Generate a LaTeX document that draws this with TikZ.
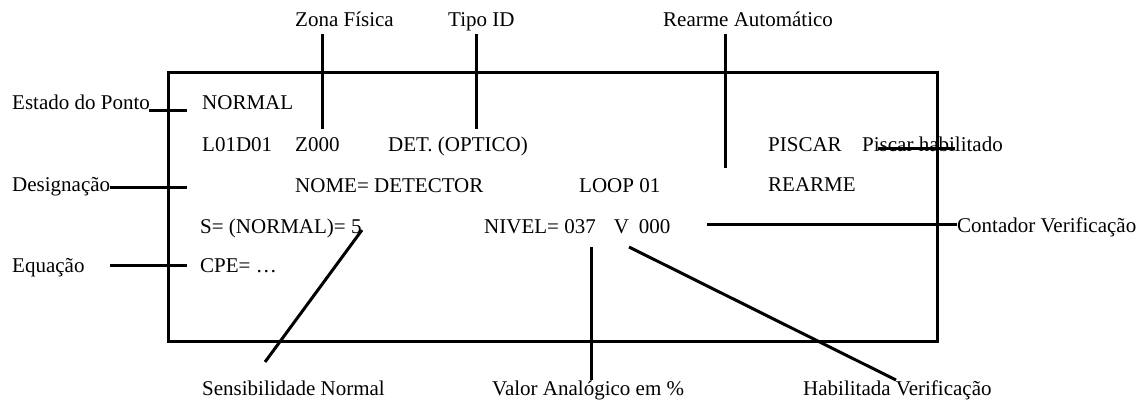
\documentclass[tikz,border=0pt]{standalone}
\usepackage{fontspec}
\setmainfont{Liberation Serif}
\begin{document}
\begin{tikzpicture}[x=1pt,y=-1pt,
  lbl/.style={anchor=base west,inner sep=0pt,font=\fontsize{21}{25}\selectfont},
  ln/.style={line width=3pt}]
\useasboundingbox (0,0) rectangle (1143,403);
% frame
\coordinate (tl) at (168,73);
\coordinate (br) at (937,341);
\draw[ln] (tl) rectangle (br);
% texts
\node[lbl] (zona) at (295,27) {Zona Física};
\node[lbl] (tipo) at (448,27) {Tipo ID};
\node[lbl] (rearmeA) at (663,27) {Rearme Automático};
\node[lbl] (estado) at (12,110) {Estado do Ponto};
\node[lbl] (normal) at (202,110) {NORMAL};
\node[lbl] (l01) at (202,152) {L01D01};
\node[lbl] (z000) at (295,152) {Z000};
\node[lbl] (det) at (388,152) {DET. (OPTICO)};
\node[lbl] (piscar) at (768,152) {PISCAR};
\node[lbl] (piscarH) at (862,152) {Piscar habilitado};
\node[lbl] (desig) at (12,192) {Designação};
\node[lbl] (nome) at (295,193) {NOME= DETECTOR};
\node[lbl] (loop) at (579,193) {LOOP 01};
\node[lbl] (rearme) at (768,192) {REARME};
\node[lbl] (sens) at (200,234) {S= (NORMAL)= 5};
\node[lbl] (nivel) at (484,234) {NIVEL= 037\hspace{18pt}V\hspace{10pt}000};
\node[lbl] (cont) at (957,233) {Contador Verificação};
\node[lbl] (equa) at (12,273) {Equação};
\node[lbl] (cpe) at (200,273) {CPE= …};
\node[lbl] (sensN) at (202,395) {Sensibilidade Normal};
\node[lbl] (valor) at (492,395) {Valor Analógico em \%};
\node[lbl] (habil) at (803,395) {Habilitada Verificação};
% connector end points
\coordinate (e1) at (149,111); \coordinate (e2) at (187,111);
\coordinate (d1) at (110,188); \coordinate (d2) at (187,188);
\coordinate (q1) at (110,266); \coordinate (q2) at (187,266);
\coordinate (z1) at (322,34);  \coordinate (z2) at (322,129);
\coordinate (t1) at (476,34);  \coordinate (t2) at (476,129);
\coordinate (r1) at (725,34);  \coordinate (r2) at (725,168);
\coordinate (p1) at (878,149); \coordinate (p2) at (955,149);
\coordinate (c1) at (707,225); \coordinate (c2) at (957,225);
\coordinate (s1) at (362,230); \coordinate (s2) at (265,362);
\coordinate (v1) at (591,247); \coordinate (v2) at (591,380);
\coordinate (h1) at (629,247); \coordinate (h2) at (896,380);
\draw[ln] (e1) -- (e2);
\draw[ln] (d1) -- (d2);
\draw[ln] (q1) -- (q2);
\draw[ln] (z1) -- (z2);
\draw[ln] (t1) -- (t2);
\draw[ln] (r1) -- (r2);
\draw[ln] (p1) -- (p2);
\draw[ln] (c1) -- (c2);
\draw[ln] (s1) -- (s2);
\draw[ln] (v1) -- (v2);
\draw[ln] (h1) -- (h2);
\end{tikzpicture}
\end{document}
